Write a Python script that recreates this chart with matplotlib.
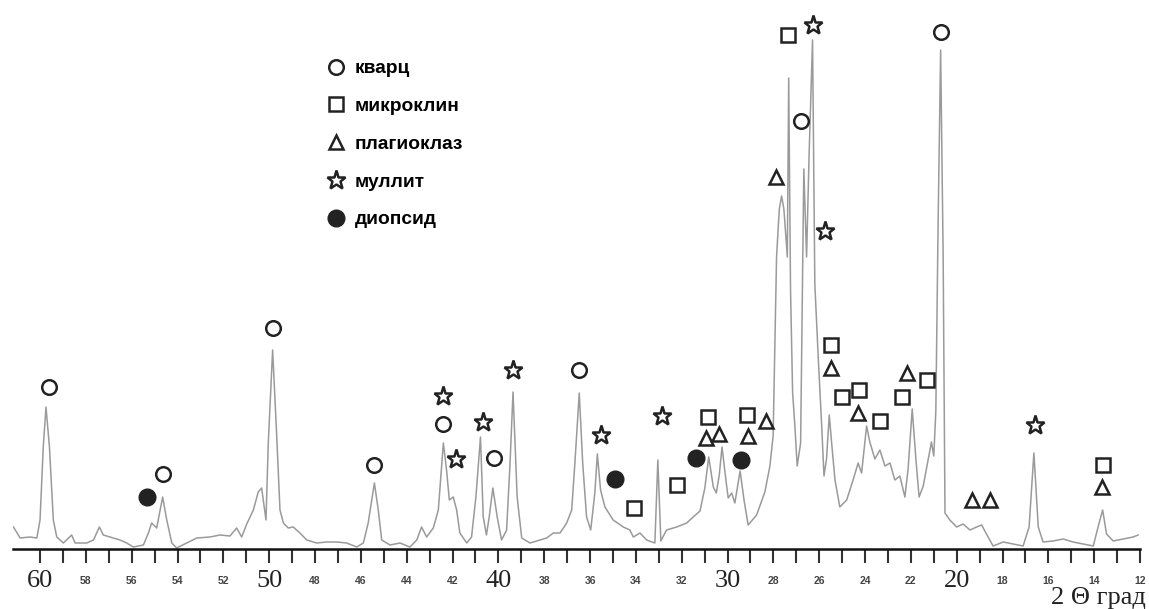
import matplotlib.pyplot as plt
from matplotlib.lines import Line2D

# diffractogram trace (2 theta, relative intensity)
two_theta = [61.16, 60.87, 60.44, 60.14, 60.00, 59.86, 59.74, 59.59, 59.42, 59.27,
             58.98, 58.62, 58.47, 57.96, 57.67, 57.41, 57.24, 56.95, 56.51, 56.22,
             55.93, 55.49, 55.27, 55.13, 54.91, 54.65, 54.47, 54.25, 54.04, 53.60,
             53.16, 52.58, 52.15, 51.71, 51.42, 51.20, 50.98, 50.69, 50.48, 50.33,
             50.26, 50.14, 50.04, 49.85, 49.67, 49.53, 49.38, 49.17, 48.95, 48.66,
             48.36, 47.93, 47.49, 47.06, 46.62, 46.18, 45.89, 45.68, 45.41, 45.24,
             45.09, 44.73, 44.29, 43.86, 43.56, 43.35, 43.13, 42.84, 42.62, 42.40,
             42.26, 42.14, 41.97, 41.82, 41.68, 41.38, 41.17, 40.98, 40.78, 40.66,
             40.52, 40.40, 40.24, 40.05, 39.86, 39.64, 39.49, 39.36, 39.18, 38.98,
             38.62, 38.18, 37.89, 37.60, 37.31, 37.02, 36.80, 36.66, 36.47, 36.32,
             36.15, 35.97, 35.79, 35.68, 35.54, 35.35, 34.99, 34.55, 34.26, 34.11,
             33.82, 33.53, 33.17, 33.04, 32.91, 32.66, 32.22, 31.78, 31.50, 31.20,
             30.99, 30.82, 30.62, 30.49, 30.36, 30.24, 30.07, 29.97, 29.82, 29.68,
             29.45, 29.28, 29.10, 28.73, 28.37, 28.15, 28.01, 27.86, 27.74, 27.64,
             27.54, 27.39, 27.33, 27.25, 27.16, 27.06, 26.96, 26.81, 26.67, 26.55,
             26.44, 26.29, 26.19, 26.04, 25.89, 25.79, 25.68, 25.56, 25.46, 25.31,
             25.10, 24.80, 24.52, 24.30, 24.15, 23.93, 23.79, 23.57, 23.35, 23.13,
             22.91, 22.70, 22.48, 22.26, 22.12, 21.94, 21.78, 21.64, 21.46, 21.24,
             21.10, 21.00, 20.91, 20.81, 20.70, 20.59, 20.51, 20.30, 20.00, 19.72,
             19.42, 19.13, 18.91, 18.70, 18.41, 17.97, 17.53, 17.10, 16.84, 16.63,
             16.44, 16.23, 15.79, 15.35, 14.92, 14.48, 14.04, 13.83, 13.63, 13.46,
             13.17, 12.74, 12.30, 12.08]
intensity = [22, 11, 12, 11, 29, 102, 142, 102, 29, 12,
             6, 14, 6, 6, 9, 22, 14, 12, 9, 6,
             2, 4, 16, 26, 21, 52, 29, 6, 1, 6,
             11, 12, 14, 13, 21, 12, 25, 39, 57, 61,
             49, 29, 106, 199, 112, 39, 26, 21, 22, 16,
             9, 6, 7, 7, 6, 2, 6, 26, 66, 39,
             9, 4, 6, 2, 9, 22, 12, 21, 39, 106,
             79, 49, 52, 39, 16, 6, 12, 52, 112, 32,
             14, 32, 61, 32, 9, 19, 86, 157, 52, 11,
             6, 9, 11, 16, 16, 26, 39, 86, 156, 86,
             32, 19, 56, 95, 59, 42, 29, 22, 19, 12,
             16, 9, 6, 89, 8, 19, 22, 26, 32, 38,
             61, 92, 62, 56, 74, 102, 69, 51, 56, 46,
             78, 49, 24, 34, 57, 83, 113, 292, 340, 353,
             340, 292, 471, 259, 157, 123, 83, 106, 380, 292,
             394, 509, 265, 191, 123, 73, 90, 134, 107, 69,
             42, 49, 69, 86, 76, 123, 107, 90, 99, 83,
             86, 69, 73, 52, 80, 140, 90, 52, 63, 90,
             107, 93, 137, 326, 499, 292, 36, 29, 22, 25,
             19, 22, 24, 15, 3, 7, 5, 3, 22, 96,
             22, 7, 8, 10, 7, 5, 3, 22, 39, 15,
             8, 10, 12, 14]

# phase marks (2 theta, height of the symbol)
kvarc_x = [59.59, 54.65, 49.82, 45.41, 42.40, 40.19, 36.48, 26.81, 20.67]
kvarc_y = [162, 75, 221, 84, 125, 91, 179, 428, 517]
mikroklin_x = [34.07, 32.22, 30.87, 29.17, 27.35, 25.47, 24.99, 24.27, 23.33, 22.37, 21.28, 13.61]
mikroklin_y = [41, 64, 132, 134, 514, 204, 152, 159, 128, 152, 169, 84]
plagioklaz_x = [30.92, 30.35, 29.10, 28.30, 27.89, 25.49, 24.31, 22.17, 19.34, 18.53, 13.67]
plagioklaz_y = [111, 115, 113, 128, 372, 181, 136, 176, 49, 49, 62]
mullit_x = [42.40, 41.85, 40.69, 39.35, 35.50, 32.88, 26.29, 25.75, 16.57]
mullit_y = [153, 90, 127, 179, 114, 133, 524, 318, 124]
diopsid_x = [55.34, 34.91, 31.38, 29.43]
diopsid_y = [52, 70, 91, 89]

labels = ['кварц', 'микроклин', 'плагиоклаз', 'муллит', 'диопсид']

ink = '#222222'
styles = [
    dict(marker='o', ms=10.5, mfc='white', mec=ink, mew=1.8),
    dict(marker='s', ms=10.5, mfc='white', mec=ink, mew=1.8),
    dict(marker='^', ms=9.5, mfc='white', mec=ink, mew=1.8),
    dict(marker='*', ms=14, mfc='white', mec=ink, mew=1.8),
    dict(marker='o', ms=12, mfc=ink, mec=ink, mew=1),
]
phases = [(kvarc_x, kvarc_y), (mikroklin_x, mikroklin_y), (plagioklaz_x, plagioklaz_y),
          (mullit_x, mullit_y), (diopsid_x, diopsid_y)]

fig = plt.figure(figsize=(11.49, 6.09), dpi=100)
ax = fig.add_axes([13 / 1149, 60 / 609, 1127 / 1149, 549 / 609])

ax.plot(two_theta, intensity, color='#9a9a9a', lw=1.1, zorder=2)
for (xs, ys), st in zip(phases, styles):
    ax.plot(xs, ys, ls='none', zorder=3, **st)

ax.set_xlim(61.18, 12)
ax.set_ylim(0, 549)

for s in ['top', 'left', 'right']:
    ax.spines[s].set_visible(False)
ax.spines['bottom'].set_linewidth(1.8)
ax.spines['bottom'].set_color('#111111')
ax.set_yticks([])

ticks = list(range(12, 61))
ax.set_xticks(ticks)
ax.set_xticklabels([str(t) if t % 2 == 0 else '' for t in ticks])
ax.tick_params(axis='x', direction='out', length=10, width=1.5, color='#333333', pad=13)
for t, lab in zip(ticks, ax.get_xticklabels()):
    lab.set_verticalalignment('center')
    if t % 10 == 0:
        lab.set_fontfamily('Liberation Serif')
        lab.set_fontsize(19)
        lab.set_color('#222222')
    else:
        lab.set_fontfamily('Liberation Sans')
        lab.set_fontweight('bold')
        lab.set_fontsize(7.5)
        lab.set_color('#444444')

fig.text(0.997, 11 / 609, '2 Θ град', ha='right', va='center',
         fontsize=19, family='Liberation Serif', color='#222222')

handles = [Line2D([], [], ls='none', **st) for st in styles]
ax.legend(handles, labels, loc='upper left', bbox_to_anchor=(326 / 1149, 1 - 60 / 609),
          bbox_transform=fig.transFigure, frameon=False, borderpad=0, borderaxespad=0,
          handlelength=1.0, handletextpad=0.5, labelspacing=1.06,
          prop={'family': 'Liberation Sans', 'weight': 'bold', 'size': 13.8})

fig.savefig('out.png', dpi=100)
